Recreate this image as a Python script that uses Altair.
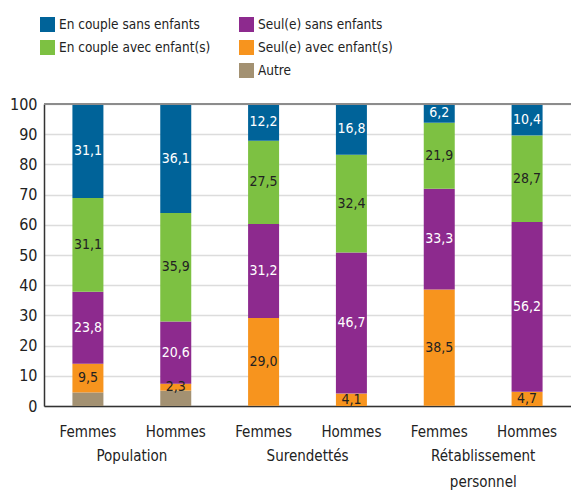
import altair as alt
import pandas as pd

groups = ["Population", "Population", "Surendettés", "Surendettés", "Rétablissement personnel", "Rétablissement personnel"]
sexes = ["Femmes", "Hommes", "Femmes", "Hommes", "Femmes", "Hommes"]

# stacking order, bottom to top
categories = ["Autre", "Seul(e) avec enfant(s)", "Seul(e) sans enfants", "En couple avec enfant(s)", "En couple sans enfants"]
autre = [4.5, 5.1, 0.1, 0.0, 0.1, 0.0]
seul_avec = [9.5, 2.3, 29.0, 4.1, 38.5, 4.7]
seul_sans = [23.8, 20.6, 31.2, 46.7, 33.3, 56.2]
couple_avec = [31.1, 35.9, 27.5, 32.4, 21.9, 28.7]
couple_sans = [31.1, 36.1, 12.2, 16.8, 6.2, 10.4]
series = [autre, seul_avec, seul_sans, couple_avec, couple_sans]

group_labels = ["Population", "Surendettés", "Rétablissement\npersonnel"]
group_keys = ["Population|Femmes", "Surendettés|Femmes", "Rétablissement personnel|Femmes"]

y_ticks = [0, 10, 20, 30, 40, 50, 60, 70, 80, 90, 100]

# legend fills column by column
legend_order = ["En couple sans enfants", "En couple avec enfant(s)", " ", "Seul(e) sans enfants", "Seul(e) avec enfant(s)", "Autre"]
legend_colors = ["#006399", "#7DC142", "transparent", "#8D2A8E", "#F7941E", "#A39172"]

rows = []
for ci, (cat, vals) in enumerate(zip(categories, series)):
    for g, s, v in zip(groups, sexes, vals):
        rows.append({"key": f"{g}|{s}", "cat": cat, "ord": ci, "value": v})
df = pd.DataFrame(rows)
keys = [f"{g}|{s}" for g, s in zip(groups, sexes)]
gdf = pd.DataFrame({"key": group_keys, "label": group_labels})

FONT = "'DejaVu Sans Condensed', 'Liberation Sans Narrow', 'DejaVu Sans', sans-serif"

x_axis = alt.Axis(title=None, labelExpr="split(datum.value, '|')[1]", labelAngle=0,
                  ticks=False, domain=True, domainColor="#333", domainWidth=1.5,
                  labelFont=FONT, labelFontSize=15, labelColor="#222", labelPadding=18)
y_axis = alt.Axis(title=None, values=y_ticks, grid=True, gridColor="#dcdcdc",
                  gridWidth=1.5, ticks=False, domain=True, domainColor="#333", domainWidth=1.5,
                  labelOverlap=False, labelFont=FONT, labelFontSize=16, labelColor="#222",
                  labelPadding=7)
y_scale = alt.Scale(domain=[0, 100], nice=False)
x_scale = alt.Scale(domain=keys, paddingInner=0, paddingOuter=0)

bars = alt.Chart(df).mark_bar(size=31).encode(
    x=alt.X("key:N", sort=keys, scale=x_scale, axis=x_axis),
    y=alt.Y("value:Q", stack="zero", scale=y_scale, axis=y_axis),
    color=alt.Color("cat:N", scale=alt.Scale(domain=legend_order, range=legend_colors),
                    legend=alt.Legend(title=None, orient="none", legendX=-4, legendY=-87, columns=2,
                                      columnPadding=28, rowPadding=8, symbolType="square",
                                      symbolSize=225, symbolStrokeWidth=0, labelFont=FONT,
                                      labelFontSize=13.5, labelColor="#222", labelOffset=4)),
    order=alt.Order("ord:Q", sort="ascending"),
)

labels = alt.Chart(df).transform_stack(
    stack="value", groupby=["key"], sort=[alt.SortField("ord", order="ascending")], as_=["y0", "y1"]
).transform_calculate(
    mid="(datum.y0 + datum.y1) / 2",
    txt="replace(format(datum.value, '.1f'), '.', ',')"
).transform_filter("datum.cat != 'Autre'").mark_text(
    font=FONT, fontSize=14, baseline="middle", align="center"
).encode(
    x=alt.X("key:N", sort=keys, scale=x_scale, axis=x_axis),
    y=alt.Y("mid:Q", scale=y_scale, axis=y_axis),
    text="txt:N",
    color=alt.condition("datum.cat == 'En couple sans enfants' || datum.cat == 'Seul(e) sans enfants'",
                        alt.value("white"), alt.value("#222")),
)

top_rule = alt.Chart(df).mark_rule(color="#8c8c8c", strokeWidth=2).encode(
    y=alt.YDatum(100, scale=y_scale, axis=y_axis))

glabels = alt.Chart(gdf).mark_text(
    font=FONT, fontSize=15, baseline="top", align="center", dx=44, lineBreak="\n", lineHeight=26,
    color="#222"
).encode(x=alt.X("key:N", sort=keys, scale=x_scale, axis=x_axis), y=alt.value(345), text="label:N")

chart = alt.layer(bars, top_rule, labels, glabels).properties(
    width=527, height=302,
    autosize=alt.AutoSizeParams(type="none"),
    padding={"left": 44, "top": 104, "right": 0, "bottom": 85},
).configure_view(stroke=None).configure(background="white")

chart.save("out.html", embed_options={"renderer": "svg", "actions": False})
